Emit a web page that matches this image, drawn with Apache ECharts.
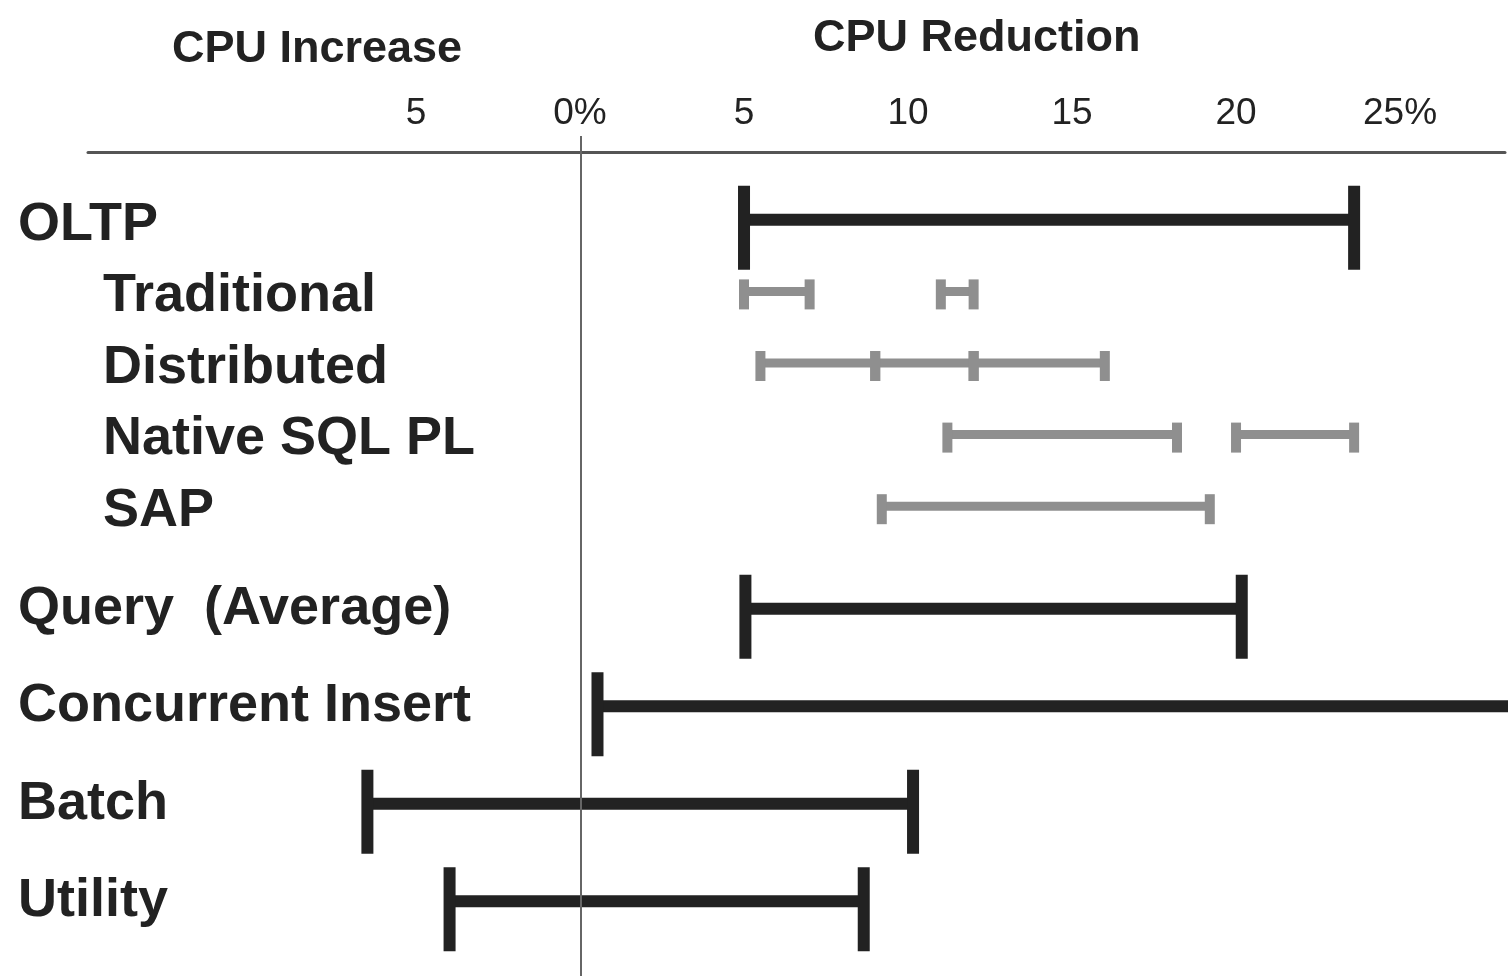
<!DOCTYPE html>
<html>
<head>
<meta charset="utf-8">
<script src="https://cdn.jsdelivr.net/npm/echarts@6/dist/echarts.min.js"></script>
<style>
  html, body { margin: 0; padding: 0; background: #fff; }
  #chart { width: 1508px; height: 976px; }
</style>
</head>
<body>
<div id="chart"></div>
<script>
  // rows (top block: OLTP and its sub-workloads, bottom block: other workloads)
  const oltpRows = ['OLTP', 'Traditional', 'Distributed', 'Native SQL PL', 'SAP']
  const otherRows = ['Query  (Average)', 'Concurrent Insert', 'Batch', 'Utility']
  const subRows = ['Traditional', 'Distributed', 'Native SQL PL', 'SAP']

  // CPU change ranges in %, negative = CPU increase
  const oltpRange = [['OLTP', 5, 23.6]]
  const detailRanges = [
    ['Traditional', 5, 7],
    ['Traditional', 11, 12],
    ['Distributed', 5.5, 9],
    ['Distributed', 9, 12],
    ['Distributed', 12, 16],
    ['Native SQL PL', 11.2, 18.2],
    ['Native SQL PL', 20, 23.6],
    ['SAP', 9.2, 19.2]
  ]
  const otherRanges = [
    ['Query  (Average)', 5, 20.1],
    ['Concurrent Insert', 0.5, 30],
    ['Batch', -6.5, 10.1],
    ['Utility', -4, 8.6]
  ]

  // axis ticks
  const tickValues = [-5, 0, 5, 10, 15, 20, 25]
  const tickLabels = ['5', '0%', '5', '10', '15', '20', '25%']

  const xMin = -15
  const xMax = 28.2
  const font = '"Liberation Sans", Arial, sans-serif'

  function rangeRenderer(color, barW, capW, capUp, capDown) {
    return function (params, api) {
      const cat = api.value(0)
      const p1 = api.coord([api.value(1), cat])
      const p2 = api.coord([api.value(2), cat])
      const style = { fill: color }
      return {
        type: 'group',
        children: [
          { type: 'rect', shape: { x: p1[0], y: p1[1] - barW / 2, width: p2[0] - p1[0], height: barW }, style: style },
          { type: 'rect', shape: { x: p1[0] - capW / 2, y: p1[1] - capUp, width: capW, height: capUp + capDown }, style: style },
          { type: 'rect', shape: { x: p2[0] - capW / 2, y: p2[1] - capUp, width: capW, height: capUp + capDown }, style: style }
        ]
      }
    }
  }

  function hiddenX(gridIndex) {
    return { gridIndex: gridIndex, type: 'value', min: xMin, max: xMax, show: false, splitLine: { show: false } }
  }

  function rowAxis(gridIndex, rows, shift) {
    return {
      gridIndex: gridIndex,
      type: 'category',
      inverse: true,
      data: rows,
      axisLine: { show: false },
      axisTick: { show: false },
      axisLabel: {
        interval: 0,
        align: 'left',
        margin: 70,
        formatter: function (v) {
          return subRows.indexOf(v) >= 0 ? '{sub|' + v + '}' : '{main|' + v + '}'
        },
        rich: {
          main: { fontFamily: font, fontSize: 54, fontWeight: 'bold', color: '#222', padding: [shift, 0, 0, 0] },
          sub: { fontFamily: font, fontSize: 54, fontWeight: 'bold', color: '#222', padding: [shift, 0, 0, 85] }
        }
      }
    }
  }

  const chart = echarts.init(document.getElementById('chart'))

  chart.setOption({
    animation: false,
    title: [
      { text: 'CPU Increase', left: 167, top: 22, textStyle: { fontFamily: font, fontSize: 45, fontWeight: 'bold', color: '#222' } },
      { text: 'CPU Reduction', left: 808, top: 11, textStyle: { fontFamily: font, fontSize: 45, fontWeight: 'bold', color: '#222' } }
    ],
    grid: [
      { left: 88, right: 0, top: 136, bottom: 0 },
      { left: 88, right: 0, top: 184, height: 358 },
      { left: 88, right: 0, top: 560, height: 390 }
    ],
    xAxis: [
      hiddenX(0),
      {
        gridIndex: 1,
        type: 'value',
        position: 'top',
        offset: 32,
        min: xMin,
        max: xMax,
        interval: 5,
        axisLine: { show: true, lineStyle: { color: '#555', width: 3 } },
        axisTick: { show: false },
        splitLine: { show: false },
        axisLabel: {
          margin: 20,
          fontFamily: font,
          fontSize: 37,
          color: '#222',
          formatter: function (v) {
            const i = tickValues.indexOf(v)
            return i < 0 ? '' : tickLabels[i]
          }
        }
      },
      hiddenX(2)
    ],
    yAxis: [
      { gridIndex: 0, type: 'value', min: 0, max: 1, show: false },
      rowAxis(1, oltpRows, 10),
      rowAxis(2, otherRows, 0)
    ],
    series: [
      {
        // zero reference line
        type: 'line',
        xAxisIndex: 0,
        yAxisIndex: 0,
        data: [],
        markLine: {
          silent: true,
          symbol: ['none', 'none'],
          label: { show: false },
          lineStyle: { type: 'solid', color: '#666', width: 2 },
          data: [{ xAxis: 0 }]
        }
      },
      {
        type: 'custom',
        xAxisIndex: 1,
        yAxisIndex: 1,
        renderItem: rangeRenderer('#222', 12, 12, 34, 50),
        encode: { x: [1, 2], y: 0 },
        data: oltpRange
      },
      {
        type: 'custom',
        xAxisIndex: 1,
        yAxisIndex: 1,
        renderItem: rangeRenderer('#8f8f8f', 9, 10, 12, 18),
        encode: { x: [1, 2], y: 0 },
        data: detailRanges
      },
      {
        type: 'custom',
        xAxisIndex: 2,
        yAxisIndex: 2,
        renderItem: rangeRenderer('#222', 12, 12, 34, 50),
        encode: { x: [1, 2], y: 0 },
        data: otherRanges
      }
    ]
  })
</script>
</body>
</html>
